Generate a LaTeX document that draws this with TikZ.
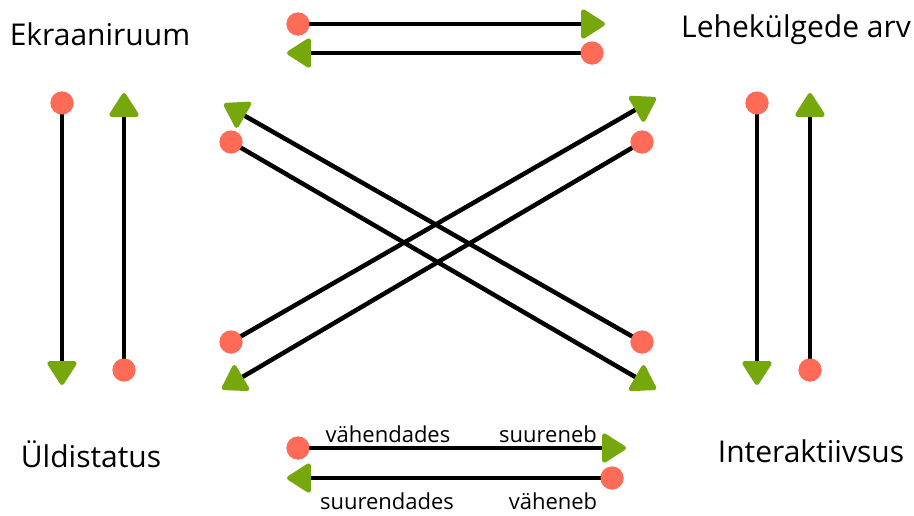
\documentclass[tikz,border=0pt]{standalone}
\usepackage{fontspec}
\setmainfont{Open Sans}
\usetikzlibrary{arrows.meta}
\definecolor{dotred}{HTML}{FF6B57}
\definecolor{tipgreen}{HTML}{76A80E}
\tikzset{
  dotnode/.style={circle,fill=dotred,inner sep=0pt,minimum size=23pt},
  conn/.style={line width=4.5pt,black,-{Triangle[length=26pt,width=32pt,tipgreen,round]}},
  bigl/.style={font=\fontsize{30}{34}\selectfont,inner sep=0pt},
  smalll/.style={font=\fontsize{22}{26}\selectfont,inner sep=0pt},
}
\begin{document}
\begin{tikzpicture}[x=1pt,y=-1pt]
\useasboundingbox (0,0) rectangle (914,515);
% titles
\node[bigl] (t1) at (100,34) {Ekraaniruum};
\node[bigl] (t2) at (796,30) {Lehekülgede arv};
\node[bigl] (t3) at (91,454) {Üldistatus};
\node[bigl] (t4) at (811,451) {Interaktiivsus};
% small labels
\node[smalll] (l1) at (388,434) {vähendades};
\node[smalll] (l2) at (548,434) {suureneb};
\node[smalll] (l3) at (387,501) {suurendades};
\node[smalll] (l4) at (553,501) {väheneb};
% dots
\node[dotnode] (d1) at (298,24) {};
\node[dotnode] (d2) at (592,53) {};
\node[dotnode] (d3) at (298,448) {};
\node[dotnode] (d4) at (612,478) {};
\node[dotnode] (d5) at (62,103) {};
\node[dotnode] (d6) at (124,370) {};
\node[dotnode] (d7) at (757,103) {};
\node[dotnode] (d8) at (810,370) {};
\node[dotnode] (d9) at (642,342) {};
\node[dotnode] (d10) at (231,142) {};
\node[dotnode] (d11) at (231,342) {};
\node[dotnode] (d12) at (642,142) {};
% tips
\coordinate (e1) at (605,24);
\coordinate (e2) at (287,53);
\coordinate (e3) at (626,448);
\coordinate (e4) at (287,478);
\coordinate (e5) at (62,385);
\coordinate (e6) at (124,93);
\coordinate (e7) at (757,385);
\coordinate (e8) at (810,93);
\coordinate (e9) at (224,104);
\coordinate (e10) at (656,389);
\coordinate (e11) at (656,98);
\coordinate (e12) at (222,389);
% connectors
\foreach \i in {1,...,12} {
  \draw[conn] (d\i.center) -- (e\i);
}
\foreach \i in {1,...,12} {
  \node[dotnode] at (d\i) {};
}
\end{tikzpicture}
\end{document}
